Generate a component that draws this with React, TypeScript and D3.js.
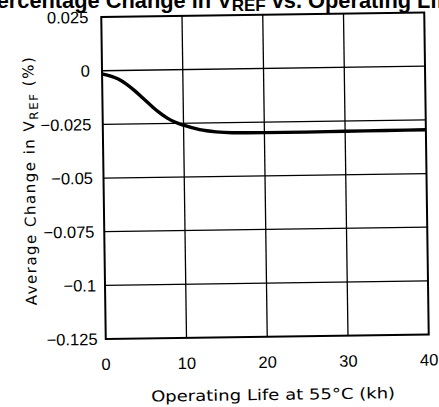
import React from "react";
import * as d3 from "d3";

const xTicks = [0, 10, 20, 30, 40];
const yTicks = [0.025, 0, -0.025, -0.05, -0.075, -0.1, -0.125];
const yTickLabels = ["0.025", "0", "\u22120.025", "\u22120.05", "\u22120.075", "\u22120.1", "\u22120.125"];
const lifeKh = [0, 2, 4, 5, 6, 7, 8, 9, 10, 12, 14, 16, 20, 25, 30, 35, 40];
const changePct = [-0.0015, -0.004, -0.0095, -0.013, -0.0165, -0.0198, -0.0225, -0.0245, -0.0259, -0.0281, -0.0292, -0.0297, -0.0299, -0.0299, -0.0298, -0.0297, -0.0296];

const W = 439;
const H = 407;
const L = 103.5, R = 426.5, T = 14.8, B = 336.8;

export default function App() {
  const x = d3.scaleLinear().domain([0, 40]).range([L, R]);
  const y = d3.scaleLinear().domain([-0.125, 0.025]).range([B, T]);
  const line = d3
    .line<number>()
    .x((_, i) => x(lifeKh[i]))
    .y((d) => y(d))
    .curve(d3.curveMonotoneX);
  const cx = (L + R) / 2;
  const cy = (T + B) / 2;
  return (
    <svg width={W} height={H} style={{ position: "absolute", left: 0, top: 0, background: "#fff" }}>
      <rect width={W} height={H} fill="#fff" />
      <text
        x={219}
        y={8}
        textAnchor="middle"
        fontFamily="Liberation Sans, Arial, sans-serif"
        fontWeight="bold"
        fontSize={21.8}
      >
        Percentage Change in V
        <tspan fontSize={17} dy={3}>REF</tspan>
        <tspan dy={-3}> vs. Operating Life</tspan>
      </text>
      <g transform={`rotate(-0.8 ${cx} ${cy})`}>
        {xTicks.slice(1, -1).map((t) => (
          <line key={"gx" + t} x1={x(t)} x2={x(t)} y1={T} y2={B} stroke="#000" strokeWidth={1.3} />
        ))}
        {yTicks.slice(1, -1).map((t) => (
          <line key={"gy" + t} x1={L} x2={R} y1={y(t)} y2={y(t)} stroke="#000" strokeWidth={1.3} />
        ))}
        <rect x={L} y={T} width={R - L} height={B - T} fill="none" stroke="#000" strokeWidth={2} />
        <path d={line(changePct) || ""} fill="none" stroke="#000" strokeWidth={3.4} strokeLinejoin="round" />
        {yTicks.map((t, i) => (
          <text
            key={"yl" + t}
            x={L - 13 + i * 0.8}
            y={y(t)}
            dy="0.35em"
            textAnchor="end"
            fontFamily="Liberation Sans, Arial, sans-serif"
            fontSize={16.5}
          >
            {yTickLabels[i]}
          </text>
        ))}
        {xTicks.map((t) => (
          <text
            key={"xl" + t}
            x={x(t)}
            y={B + 31}
            textAnchor="middle"
            fontFamily="Liberation Sans, Arial, sans-serif"
            fontSize={16.5}
          >
            {t}
          </text>
        ))}
        <text
          x={270}
          y={400}
          textAnchor="middle"
          fontFamily="DejaVu Sans, sans-serif"
          fontSize={15}
          textLength={244}
          lengthAdjust="spacingAndGlyphs"
        >
          Operating Life at 55°C (kh)
        </text>
        <text
          transform={`translate(35 ${178}) rotate(-90)`}
          textAnchor="middle"
          fontFamily="DejaVu Sans, sans-serif"
          fontSize={15}
          textLength={248}
          lengthAdjust="spacing"
        >
          Average Change in V<tspan fontSize={12} dy={4}>REF</tspan>
          <tspan dy={-4}>{"  (%)"}</tspan>
        </text>
      </g>
    </svg>
  );
}
